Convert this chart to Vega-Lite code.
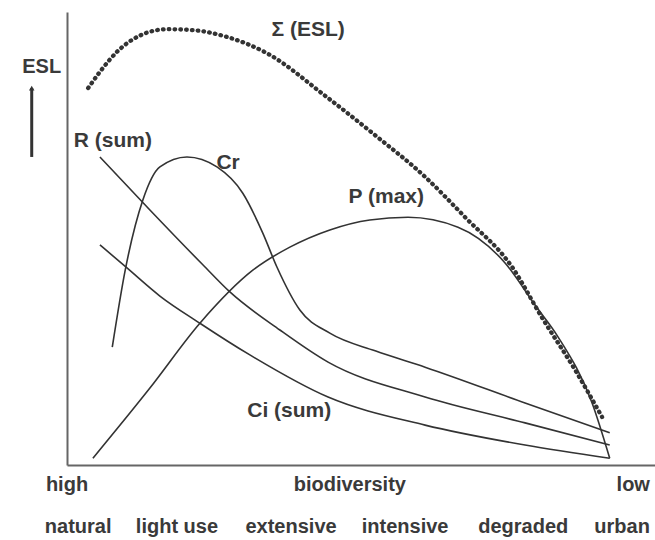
{
  "$schema": "https://vega.github.io/schema/vega-lite/v6.json",
  "width": 588,
  "height": 453,
  "autosize": {"type": "none"},
  "padding": {"left": 67, "top": 12, "right": 0, "bottom": 75},
  "background": "white",
  "config": {"view": {"stroke": null}, "font": "Liberation Sans"},
  "datasets": {
    "curves": [
      {"series": "P", "x": 4.4, "y": 1.5},
      {"series": "P", "x": 14.1, "y": 17.0},
      {"series": "P", "x": 22.6, "y": 31.3},
      {"series": "P", "x": 31.6, "y": 43.0},
      {"series": "P", "x": 37.9, "y": 48.1},
      {"series": "P", "x": 44.7, "y": 51.9},
      {"series": "P", "x": 51.5, "y": 54.1},
      {"series": "P", "x": 58.0, "y": 54.7},
      {"series": "P", "x": 66.5, "y": 52.5},
      {"series": "P", "x": 74.5, "y": 44.6},
      {"series": "P", "x": 79.6, "y": 35.3},
      {"series": "P", "x": 83.5, "y": 28.3},
      {"series": "P", "x": 89.3, "y": 13.7},
      {"series": "P", "x": 92.3, "y": 1.5},
      {"series": "Cr", "x": 7.7, "y": 26.0},
      {"series": "Cr", "x": 9.9, "y": 43.0},
      {"series": "Cr", "x": 12.9, "y": 58.5},
      {"series": "Cr", "x": 15.8, "y": 65.8},
      {"series": "Cr", "x": 20.4, "y": 68.0},
      {"series": "Cr", "x": 25.5, "y": 65.8},
      {"series": "Cr", "x": 29.9, "y": 60.0},
      {"series": "Cr", "x": 33.3, "y": 51.2},
      {"series": "Cr", "x": 35.7, "y": 43.7},
      {"series": "Cr", "x": 39.6, "y": 34.2},
      {"series": "Cr", "x": 44.7, "y": 29.1},
      {"series": "Cr", "x": 52.4, "y": 25.2},
      {"series": "Cr", "x": 60.9, "y": 21.6},
      {"series": "Cr", "x": 77.9, "y": 13.7},
      {"series": "Cr", "x": 92.3, "y": 7.1},
      {"series": "R", "x": 5.6, "y": 68.0},
      {"series": "R", "x": 14.1, "y": 56.3},
      {"series": "R", "x": 23.1, "y": 44.2},
      {"series": "R", "x": 27.7, "y": 38.2},
      {"series": "R", "x": 36.2, "y": 29.8},
      {"series": "R", "x": 44.4, "y": 22.7},
      {"series": "R", "x": 60.9, "y": 15.0},
      {"series": "R", "x": 77.9, "y": 9.3},
      {"series": "R", "x": 92.3, "y": 4.4},
      {"series": "Ci", "x": 5.6, "y": 48.6},
      {"series": "Ci", "x": 10.2, "y": 43.5},
      {"series": "Ci", "x": 15.8, "y": 37.3},
      {"series": "Ci", "x": 22.6, "y": 31.3},
      {"series": "Ci", "x": 31.1, "y": 24.3},
      {"series": "Ci", "x": 44.4, "y": 15.0},
      {"series": "Ci", "x": 60.9, "y": 8.8},
      {"series": "Ci", "x": 77.9, "y": 4.4},
      {"series": "Ci", "x": 92.3, "y": 1.5}
    ],
    "sum": [
      {"x": 3.6, "y": 83.2},
      {"x": 5.6, "y": 86.8},
      {"x": 8.5, "y": 91.2},
      {"x": 12.4, "y": 94.8},
      {"x": 17.0, "y": 96.2},
      {"x": 21.4, "y": 96.0},
      {"x": 27.2, "y": 94.5},
      {"x": 34.0, "y": 90.9},
      {"x": 43.9, "y": 81.5},
      {"x": 52.4, "y": 72.8},
      {"x": 60.9, "y": 63.6},
      {"x": 67.7, "y": 54.7},
      {"x": 75.7, "y": 43.7},
      {"x": 80.8, "y": 32.5},
      {"x": 86.4, "y": 21.0},
      {"x": 91.0, "y": 10.6}
    ],
    "labels": [
      {"text": "Σ (ESL)", "x": 41.0, "y": 96.0, "size": 21},
      {"text": "R (sum)", "x": 7.8, "y": 71.5, "size": 21},
      {"text": "Cr", "x": 27.4, "y": 66.7, "size": 21},
      {"text": "P (max)", "x": 54.3, "y": 59.2, "size": 21},
      {"text": "Ci (sum)", "x": 37.8, "y": 11.9, "size": 21},
      {"text": "ESL", "x": -4.3, "y": 87.9, "size": 20},
      {"text": "high", "x": 0, "y": -4.4, "size": 20},
      {"text": "biodiversity", "x": 48.1, "y": -4.4, "size": 20},
      {"text": "low", "x": 96.3, "y": -4.4, "size": 20},
      {"text": "natural", "x": 1.9, "y": -13.7, "size": 20},
      {"text": "light use", "x": 18.7, "y": -13.7, "size": 20},
      {"text": "extensive", "x": 38.1, "y": -13.7, "size": 20},
      {"text": "intensive", "x": 57.5, "y": -13.7, "size": 20},
      {"text": "degraded", "x": 77.6, "y": -13.7, "size": 20},
      {"text": "urban", "x": 94.4, "y": -13.7, "size": 20}
    ],
    "arrow": [{"x": -6.0, "y": 68.0, "y2": 83.2}]
  },
  "layer": [
    {
      "data": {"name": "curves"},
      "mark": {"type": "line", "interpolate": "monotone", "color": "#333", "strokeWidth": 1.6},
      "encoding": {
        "x": {"field": "x", "type": "quantitative", "scale": {"domain": [0, 100], "nice": false, "zero": false},
              "axis": {"title": null, "labels": false, "ticks": false, "grid": false, "domainColor": "#666", "domainWidth": 2}},
        "y": {"field": "y", "type": "quantitative", "scale": {"domain": [0, 100], "nice": false, "zero": false},
              "axis": {"title": null, "labels": false, "ticks": false, "grid": false, "domainColor": "#666", "domainWidth": 2}},
        "detail": {"field": "series"},
        "order": {"field": "x", "type": "quantitative"}
      }
    },
    {
      "data": {"name": "sum"},
      "mark": {"type": "line", "interpolate": "monotone", "color": "#333", "strokeWidth": 4.3, "strokeDash": [0.6, 5.2], "strokeCap": "round"},
      "encoding": {
        "x": {"field": "x", "type": "quantitative"},
        "y": {"field": "y", "type": "quantitative"}
      }
    },
    {
      "data": {"name": "arrow"},
      "mark": {"type": "rule", "color": "#333", "strokeWidth": 3},
      "encoding": {
        "x": {"field": "x", "type": "quantitative"},
        "y": {"field": "y", "type": "quantitative"},
        "y2": {"field": "y2"}
      }
    },
    {
      "data": {"name": "arrow"},
      "mark": {"type": "point", "shape": "triangle-up", "filled": true, "color": "#333", "size": 30, "opacity": 1},
      "encoding": {
        "x": {"field": "x", "type": "quantitative"},
        "y": {"field": "y2", "type": "quantitative"}
      }
    },
    {
      "data": {"name": "labels"},
      "mark": {"type": "text", "fontWeight": "bold", "color": "#3a3a3a", "align": "center", "baseline": "middle"},
      "encoding": {
        "x": {"field": "x", "type": "quantitative"},
        "y": {"field": "y", "type": "quantitative"},
        "text": {"field": "text"},
        "size": {"field": "size", "type": "quantitative", "scale": null}
      }
    }
  ]
}
